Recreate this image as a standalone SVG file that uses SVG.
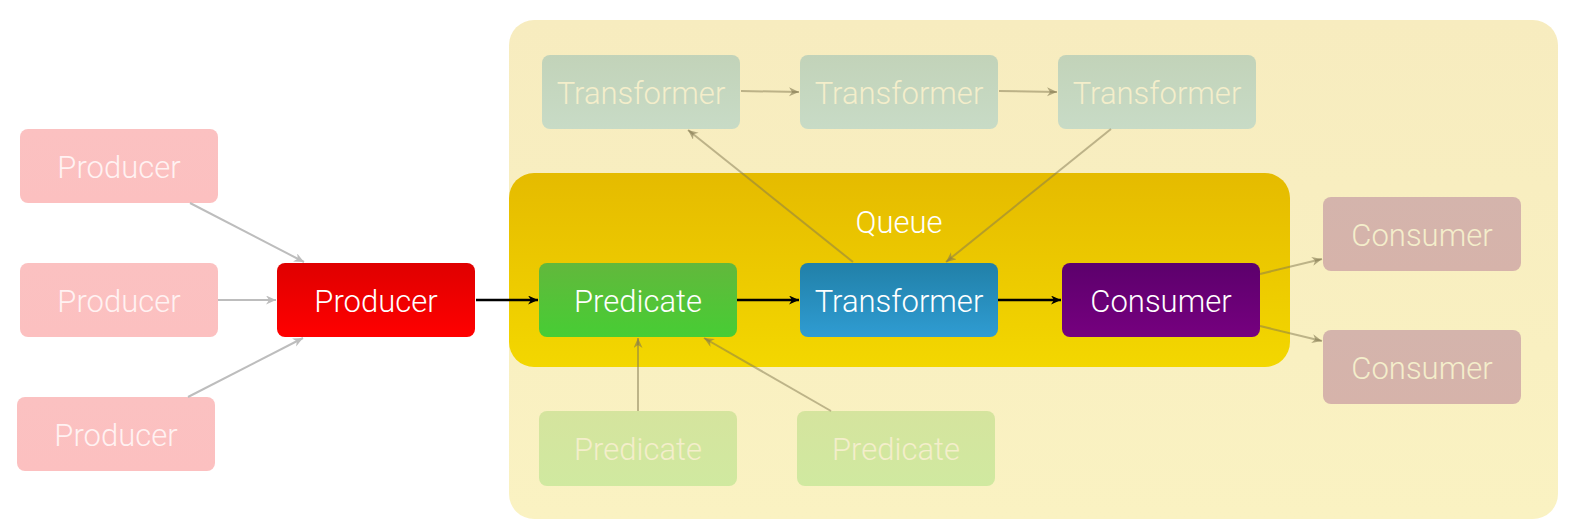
<svg xmlns="http://www.w3.org/2000/svg" width="1578" height="520" viewBox="0 0 1578 520">
<style>
text{font-family:Roboto,"Liberation Sans",Arial,sans-serif;font-weight:300;font-size:31px;text-anchor:middle}
.w{fill:#ffffff}
.fp{fill:#FFF2F2}
.fy{fill:#F4EECB}
.gw{stroke:#BDBDBD;stroke-width:2;fill:none;marker-end:url(#ag)}
.gy{stroke:rgba(130,120,80,0.5);stroke-width:2;fill:none;marker-end:url(#ay)}
.bk{stroke:#000;stroke-width:2.5;fill:none;marker-end:url(#ab)}
</style>
<defs>
<linearGradient id="gOuter" x1="0" y1="0" x2="0" y2="1"><stop offset="0" stop-color="#F7ECBF"/><stop offset="1" stop-color="#FAF2C2"/></linearGradient>
<linearGradient id="gQueue" x1="0" y1="0" x2="0" y2="1"><stop offset="0" stop-color="#E5BB00"/><stop offset="1" stop-color="#F3D700"/></linearGradient>
<linearGradient id="gRed" x1="0" y1="0" x2="0" y2="1"><stop offset="0" stop-color="#DF0000"/><stop offset="1" stop-color="#FF0000"/></linearGradient>
<linearGradient id="gGreen" x1="0" y1="0" x2="0" y2="1"><stop offset="0" stop-color="#62B83C"/><stop offset="1" stop-color="#47CD34"/></linearGradient>
<linearGradient id="gBlue" x1="0" y1="0" x2="0" y2="1"><stop offset="0" stop-color="#2180A8"/><stop offset="1" stop-color="#2F9CD2"/></linearGradient>
<linearGradient id="gPurple" x1="0" y1="0" x2="0" y2="1"><stop offset="0" stop-color="#5C006C"/><stop offset="1" stop-color="#76007F"/></linearGradient>
<linearGradient id="gFT" x1="0" y1="0" x2="0" y2="1"><stop offset="0" stop-color="#C2D3B9"/><stop offset="1" stop-color="#C8DBC6"/></linearGradient>
<linearGradient id="gFP" x1="0" y1="0" x2="0" y2="1"><stop offset="0" stop-color="#D5E49E"/><stop offset="1" stop-color="#D0E9A0"/></linearGradient>
<linearGradient id="gFC" x1="0" y1="0" x2="0" y2="1"><stop offset="0" stop-color="#D4B4AC"/><stop offset="1" stop-color="#D6B3AA"/></linearGradient>
<linearGradient id="gFR" x1="0" y1="0" x2="0" y2="1"><stop offset="0" stop-color="#FBC1C1"/><stop offset="1" stop-color="#FCC0C0"/></linearGradient>
<marker id="ag" markerUnits="userSpaceOnUse" markerWidth="12" markerHeight="10" refX="10" refY="4.5" orient="auto"><path d="M0,0 L10,4.5 L0,9 L3,4.5 z" fill="#BDBDBD"/></marker>
<marker id="ay" markerUnits="userSpaceOnUse" markerWidth="12" markerHeight="10" refX="10" refY="4.5" orient="auto"><path d="M0,0 L10,4.5 L0,9 L3,4.5 z" fill="rgba(130,120,80,0.6)"/></marker>
<marker id="ab" markerUnits="userSpaceOnUse" markerWidth="12" markerHeight="10" refX="10" refY="4.5" orient="auto"><path d="M0,0 L10,4.5 L0,9 L3,4.5 z" fill="#000"/></marker>
</defs>

<g id="outer"><rect x="509" y="20" width="1049" height="499" rx="25" fill="url(#gOuter)"/></g>
<g id="queue"><rect x="509" y="173" width="781" height="194" rx="25" fill="url(#gQueue)"/><text class="w" x="899" y="233">Queue</text></g>

<g id="producer1"><rect x="20" y="129" width="198" height="74" rx="8" fill="url(#gFR)"/><text class="fp" x="119" y="178">Producer</text></g>
<g id="producer2"><rect x="20" y="263" width="198" height="74" rx="8" fill="url(#gFR)"/><text class="fp" x="119" y="312">Producer</text></g>
<g id="producer3"><rect x="17" y="397" width="198" height="74" rx="8" fill="url(#gFR)"/><text class="fp" x="116" y="446">Producer</text></g>
<g id="producer"><rect x="277" y="263" width="198" height="74" rx="8" fill="url(#gRed)"/><text class="w" x="376" y="312">Producer</text></g>

<g id="transformer1"><rect x="542" y="55" width="198" height="74" rx="8" fill="url(#gFT)"/><text class="fy" x="641" y="104">Transformer</text></g>
<g id="transformer2"><rect x="800" y="55" width="198" height="74" rx="8" fill="url(#gFT)"/><text class="fy" x="899" y="104">Transformer</text></g>
<g id="transformer3"><rect x="1058" y="55" width="198" height="74" rx="8" fill="url(#gFT)"/><text class="fy" x="1157" y="104">Transformer</text></g>

<g id="predicate"><rect x="539" y="263" width="198" height="74" rx="8" fill="url(#gGreen)"/><text class="w" x="638" y="312">Predicate</text></g>
<g id="transformer"><rect x="800" y="263" width="198" height="74" rx="8" fill="url(#gBlue)"/><text class="w" x="899" y="312">Transformer</text></g>
<g id="consumer"><rect x="1062" y="263" width="198" height="74" rx="8" fill="url(#gPurple)"/><text class="w" x="1161" y="312">Consumer</text></g>

<g id="consumer1"><rect x="1323" y="197" width="198" height="74" rx="8" fill="url(#gFC)"/><text class="fy" x="1422" y="246">Consumer</text></g>
<g id="consumer2"><rect x="1323" y="330" width="198" height="74" rx="8" fill="url(#gFC)"/><text class="fy" x="1422" y="379">Consumer</text></g>

<g id="predicate1"><rect x="539" y="411" width="198" height="75" rx="8" fill="url(#gFP)"/><text class="fy" x="638" y="460">Predicate</text></g>
<g id="predicate2"><rect x="797" y="411" width="198" height="75" rx="8" fill="url(#gFP)"/><text class="fy" x="896" y="460">Predicate</text></g>

<g id="connectors">
<path class="gw" d="M190,203 L304,262"/>
<path class="gw" d="M218,300 L276,300"/>
<path class="gw" d="M188,397 L303,338"/>
<path class="gy" d="M741,91 L799,92"/>
<path class="gy" d="M999,91 L1057,92"/>
<path class="gy" d="M853,262 L688,130"/>
<path class="gy" d="M1111,129 L946,262"/>
<path class="gy" d="M638,411 L638,338"/>
<path class="gy" d="M831,411 L704,338"/>
<path class="gy" d="M1260,274 L1322,259"/>
<path class="gy" d="M1260,326 L1322,341"/>
<path class="bk" d="M476,300 L538,300"/>
<path class="bk" d="M737,300 L799,300"/>
<path class="bk" d="M998,300 L1061,300"/>
</g>
</svg>
